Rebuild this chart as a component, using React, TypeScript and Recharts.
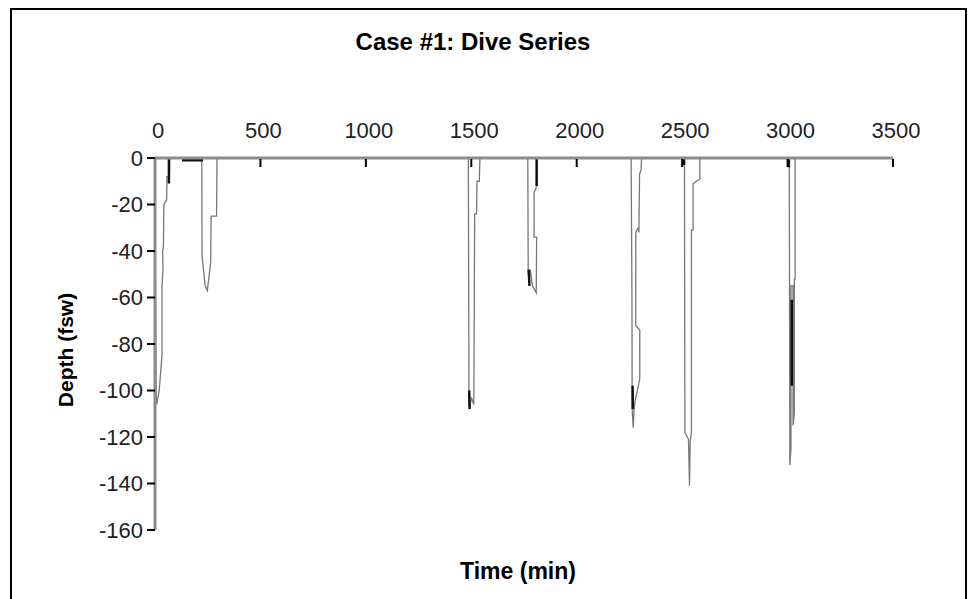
import React from 'react';
import { LineChart, Line, XAxis, YAxis } from 'recharts';

const FONT = '"Liberation Sans", Arial, Helvetica, sans-serif';

const timeTicks = [0, 500, 1000, 1500, 2000, 2500, 3000, 3500];
const depthTicks = [0, -20, -40, -60, -80, -100, -120, -140, -160];

// [time (min), depth (fsw)], dive by dive
const dive1: [number, number][] = [
  [0, 0], [2, -50], [5, -100], [8, -106], [20, -100], [33, -85], [33, -55],
  [38, -48], [36, -40], [40, -38], [42, -20], [55, -18], [57, -8], [68, -8], [70, 0],
];
const dive2: [number, number][] = [
  [222, 0], [223, -42], [238, -55], [248, -57], [264, -45], [266, -25], [292, -25], [294, 0],
];
const dive3: [number, number][] = [
  [1486, 0], [1489, -100], [1492, -108], [1500, -103], [1512, -106], [1516, -24],
  [1525, -24], [1527, -10], [1538, -10], [1541, 0],
];
const dive4: [number, number][] = [
  [1768, 0], [1770, -49], [1775, -52], [1780, -48], [1790, -55], [1808, -58], [1810, -34],
  [1798, -34], [1798, -15], [1810, -12], [1810, 0],
];
const dive5: [number, number][] = [
  [2258, 0], [2262, -60], [2263, -108], [2268, -116], [2272, -108], [2278, -104],
  [2299, -95], [2299, -74], [2280, -72], [2280, -32], [2292, -30], [2295, -32],
  [2298, -7], [2305, -5], [2308, 0],
];
const dive6: [number, number][] = [
  [2511, 0], [2513, -118], [2530, -121], [2535, -141], [2538, -122], [2544, -118],
  [2544, -31], [2552, -31], [2552, -11], [2568, -10], [2584, -9], [2584, 0],
];
const dive7: [number, number][] = [
  [3008, 0], [3011, -132], [3016, -125], [3016, -55], [3026, -55], [3026, -115],
  [3032, -110], [3032, -52], [3036, -52], [3036, 0], [3500, 0],
];

// short dark strokes in the trace
const darkSegments: [number, number][][] = [
  [[66, 0], [66, -11]],
  [[128, -1], [228, -1]],
  [[1490, -100], [1492, -108]],
  [[1772, -48], [1776, -55]],
  [[1810, 0], [1810, -12]],
  [[2265, -98], [2266, -108]],
  [[2509, 0], [2509, -3]],
  [[3006, 0], [3006, -4]],
  [[3020, -61], [3020, -98]],
];

const toPoints = (pairs: [number, number][]) => pairs.map(([t, d]) => ({ t, d }));

const profile = toPoints([...dive1, ...dive2, ...dive3, ...dive4, ...dive5, ...dive6, ...dive7]);
const marks = darkSegments.flatMap((seg) => [
  ...toPoints(seg),
  { t: seg[seg.length - 1][0], d: null as number | null },
]);

const TimeTick = (props: any) => {
  const { x, y, payload } = props;
  return (
    <g>
      {payload.value !== 0 && (
        <line x1={x} y1={y + 1} x2={x} y2={y + 9} stroke="#000" strokeWidth={2} />
      )}
      <text x={x + 3} y={y - 20} textAnchor="middle" fontSize={22} fill="#222" fontFamily={FONT}>
        {payload.value}
      </text>
    </g>
  );
};

export default function App() {
  return (
    <div style={{ position: 'fixed', left: 0, top: 0, width: 971, height: 599, background: '#fff', overflow: 'hidden' }}>
      <div
        style={{
          position: 'absolute', left: 10, top: 8, width: 957, height: 620,
          border: '2px solid #000', boxSizing: 'border-box',
        }}
      />
      <div
        style={{
          position: 'absolute', left: 473, top: 28, transform: 'translateX(-50%)',
          fontFamily: FONT, fontWeight: 'bold', fontSize: 24, lineHeight: '28px', whiteSpace: 'nowrap',
        }}
      >
        Case #1: Dive Series
      </div>
      <div
        style={{
          position: 'absolute', left: 518, top: 557, transform: 'translateX(-50%)',
          fontFamily: FONT, fontWeight: 'bold', fontSize: 23, lineHeight: '28px', whiteSpace: 'nowrap',
        }}
      >
        Time (min)
      </div>
      <div
        style={{
          position: 'absolute', left: 66, top: 350, transform: 'translate(-50%, -50%) rotate(-90deg)',
          fontFamily: FONT, fontWeight: 'bold', fontSize: 21, lineHeight: '26px', whiteSpace: 'nowrap',
        }}
      >
        Depth (fsw)
      </div>
      <div style={{ position: 'absolute', left: 0, top: 0 }}>
        <LineChart width={971} height={599} margin={{ top: 118, right: 78, bottom: 69, left: 95 }}>
          <XAxis
            dataKey="t"
            type="number"
            orientation="top"
            domain={[0, 3500]}
            ticks={timeTicks}
            height={40}
            tickSize={0}
            tickMargin={0}
            tickLine={false}
            axisLine={{ stroke: '#8c8c8c', strokeWidth: 3 }}
            tick={<TimeTick />}
            allowDataOverflow
          />
          <YAxis
            dataKey="d"
            type="number"
            domain={[-160, 0]}
            ticks={depthTicks}
            width={60}
            tickSize={8}
            tickMargin={4}
            tickLine={{ stroke: '#000', strokeWidth: 2 }}
            axisLine={{ stroke: '#8c8c8c', strokeWidth: 3 }}
            tick={{ fontSize: 22, fill: '#222', fontFamily: FONT }}
            allowDataOverflow
          />
          <Line
            data={profile}
            dataKey="d"
            type="linear"
            stroke="#777"
            strokeWidth={1.3}
            dot={false}
            isAnimationActive={false}
          />
          <Line
            data={marks}
            dataKey="d"
            type="linear"
            stroke="#111"
            strokeWidth={2.5}
            dot={false}
            connectNulls={false}
            isAnimationActive={false}
          />
        </LineChart>
      </div>
    </div>
  );
}
